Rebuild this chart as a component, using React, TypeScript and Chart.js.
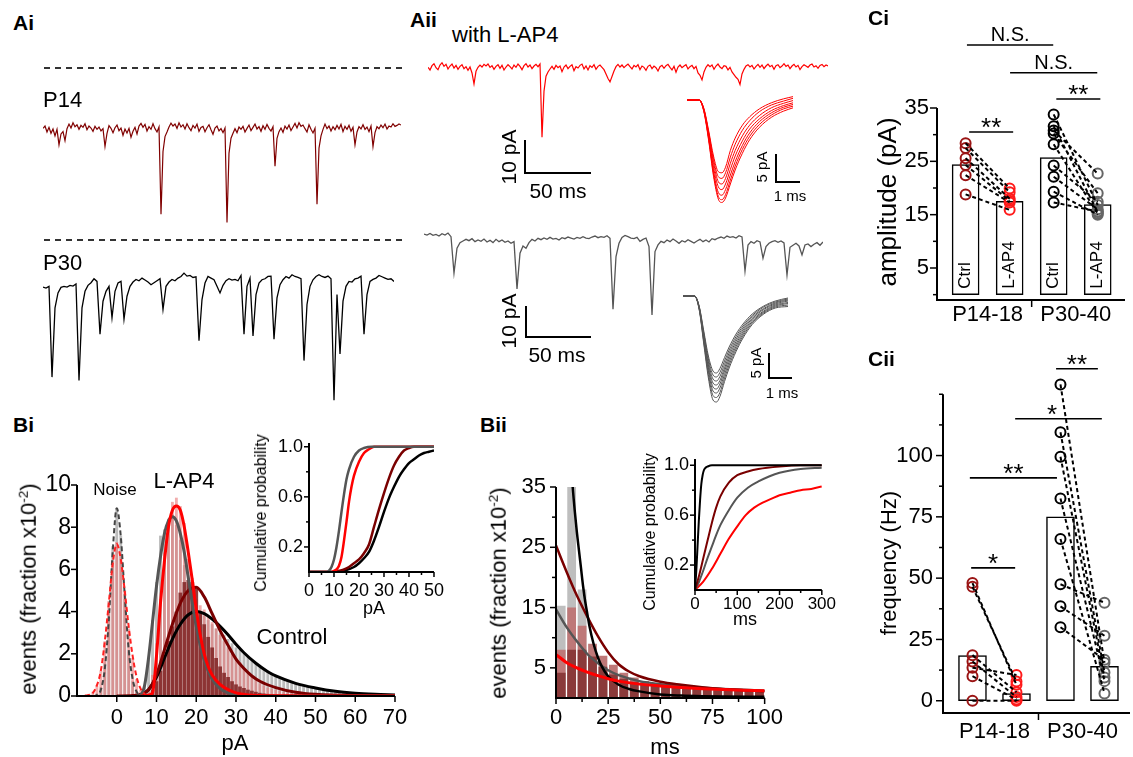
import React, { useEffect, useRef } from 'react';
import { Chart, registerables } from 'chart.js';

Chart.register(...registerables);

const FONT = "'Liberation Sans', Arial, Helvetica, sans-serif";
Chart.defaults.font.family = FONT;

// ================= Panel A : raw traces (pA, one sample per step ms) =================
const TRACE_STEP = 2.27;
const FINE_STEP = 1.515;
const p14Trace = [
  0.5, 1.2, -0.6, 0.8, -1.0, 0.3, -1.8, 0.2, -4.5, -1.2,
  -0.5, -3.2, 0.4, 1.8, 0.6, 2.2, 1.0, 1.6, 0.2, 1.4,
  0.8, 1.9, 0.1, 1.2, 0.6, -0.4, 1.1, 0.2, 0.9, -0.3,
  0.4, -5.0, -1.0, 1.3, 0.5, -0.8, 0.7, 1.5, -0.2, 0.6,
  -1.6, 0.3, -0.9, 0.5, -2.2, -0.4, 0.8, -1.2, 1.2, 2.0,
  0.8, 1.7, -0.3, 1.0, 0.2, 1.9, 0.4, -0.6, 0.9, -25.5,
  -6.5, -2.0, -0.6, 0.9, 2.1, 1.2, 1.8, 0.5, 2.2, 0.9,
  1.6, 0.3, 1.9, 0.7, -0.2, 1.4, 0.6, 1.8, -0.4, 0.8,
  1.1, -0.5, 0.7, 1.6, 0.1, -1.3, 0.6, 1.2, -0.3, 0.4,
  -0.8, 0.6, -28.0, -7.0, -2.5, -1.0, 0.4, -0.8, 0.9, 0.2,
  1.1, -0.6, 0.5, 1.5, -0.2, 0.8, 1.8, 0.3, 1.0, -0.4,
  1.3, 0.2, 1.7, 0.5, -0.3, 1.0, -11.0, -2.5, -0.5, 0.6,
  -0.7, 1.2, 0.3, 1.5, -0.2, 0.9, 2.0, 0.6, 2.2, 1.1,
  1.5, 0.4, -0.6, 1.6, 0.2, -0.9, 0.5, -22.5, -5.5, -1.8,
  0.2, 1.8, 0.4, 1.2, -0.3, 1.0, 0.1, 1.4, 0.3, 1.7,
  -0.5, 1.1, 0.2, 1.4, -0.4, 0.8, -4.5, -0.6, 1.0, 0.3,
  1.6, 0.2, 0.9, -0.5, 1.2, -5.0, -0.8, 1.0, 0.4, 1.5,
  0.7, 1.8, 0.3, 1.2, 0.9, 1.9, 1.1, 1.4, 1.8, 1.5,
];
const p30Trace = [
  0.3, 0.0, 0.5, -27, -6, -1.5, 0.2, 0.5, 0.3, 0.8,
  0.6, 1.2, -28, -6, -1.0, 0.8, 1.6, 2.8, 2.0, -14,
  -4, -1.0, 0.5, -9, -1.0, 1.5, 2.0, -9.5, -2.5, 0.5,
  1.8, 2.6, 2.2, 3.0, 2.4, 1.8, 1.0, 1.6, 2.2, 2.8,
  -6.5, 0.5, 1.8, 2.6, 2.2, 3.0, 3.5, 4.5, 3.6, 3.8,
  3.2, 3.4, -16, -3.5, 1.5, 3.5, 3.0, 2.5, 0.5, -1.5,
  0.8, 2.2, 2.8, 2.4, 2.6, 2.2, 3.8, -14, 0.5, 3.0,
  -14.5, -2.0, 1.5, 2.5, 2.8, 3.5, 3.6, -15.5, -3, 1.0,
  2.5, 3.5, 3.0, 4.0, 3.5, 3.2, 2.8, -22, -5, 0.5,
  2.5, 3.5, 4.0, 3.5, 3.2, 3.6, 2.8, -34, -2, -20,
  -4, 0.5, 2.0, 1.8, 2.8, 3.0, 3.6, -14, -2, 2.0,
  2.6, 3.0, 3.8, 3.4, 3.0, 2.6, 2.8, 2.0,
];
const lap4Trace = [
  0.2, -0.6, 0.7, 1.3, 0.1, -0.5, 0.9, 1.6, 0.5, 1.1,
  -0.3, 0.6, 1.2, 0.0, 0.8, -0.4, 0.5, 1.0, -0.2, 0.4,
  -0.7, 0.3, -1.5, -4.8, -1.0, 0.2, 0.9, 0.3, 1.1, 0.6,
  1.2, 0.2, 0.7, -0.4, 0.5, 1.0, -0.1, 0.8, -0.6, 0.3,
  1.0, 0.4, -0.3, 0.9, 0.2, 1.2, 0.5, -0.5, 0.7, 1.3,
  0.3, 0.9, -0.2, 0.6, 1.1, 0.4, 1.2, -21.0, -7.0, -2.5,
  -1.2, -0.3, 0.5, -0.4, 0.8, 0.1, 0.6, -1.1, 0.3, 0.9,
  -0.2, 0.5, 1.0, -0.8, 0.4, 0.0, 0.8, 1.2, -0.3, 0.6,
  -0.6, 0.7, 0.2, 1.0, -0.4, 0.5, 0.9, 0.2, -0.5, -1.8,
  -3.2, -4.2, -2.6, -0.9, 0.4, 1.1, 0.3, 0.9, 0.1, 0.7,
  1.2, 0.4, -0.3, 0.8, 0.3, 1.0, -0.5, 0.6, 0.2, -0.7,
  0.5, 0.9, -0.2, 0.6, 0.1, -0.9, 0.4, 0.8, -0.1, 0.7,
  1.1, 0.2, -0.6, 0.5, -1.3, 0.3, 0.9, 0.1, 0.6, 1.0,
  -0.3, 0.4, 0.8, -0.2, 0.5, -1.5, -2.2, -3.6, -1.2, 0.2,
  1.0, 0.4, 0.9, -0.4, 0.6, 1.2, 0.3, -0.2, 0.7, 0.5,
  -0.6, 0.2, -1.2, -2.0, -2.8, -3.4, -5.0, -1.8, -0.4, 0.6,
  1.0, 0.3, 0.8, -0.3, 0.5, 1.1, 0.2, 0.9, -0.2, 0.6,
  1.2, 0.4, 0.8, -0.4, 0.7, 1.0, 0.1, 0.6, 1.3, 0.5,
  0.9, -0.2, 0.6, 1.1, 0.3, 0.8, -0.5, 0.4, 1.0, 0.6,
  0.2, 0.9, 1.2, 0.3, 0.7, -0.1, 0.8, 1.1, 0.4, 0.9,
  0.6,
];
const p30Lap4Trace = [
  1.8, 1.5, 2.0, 1.4, 1.7, 1.2, 1.9, 1.5, 2.1, 1.0,
  -10.0, -2.5, -0.8, -0.3, 0.2, -0.2, 0.4, -0.5, 0.0, -0.4,
  0.3, -0.6, -0.1, -0.8, 0.2, -0.5, 0.0, -0.7, -0.3, -1.0,
  -0.5, -14.8, -4.0, -1.8, -2.5, -0.8, 0.2, -0.3, 0.5, 0.1,
  0.6, 0.2, 0.8, 0.3, 0.5, 0.0, 0.7, 0.4, 0.9, 0.6,
  0.3, 0.8, 0.5, 1.0, 0.6, 0.4, 0.9, 1.2, 0.7, 1.0,
  0.8, 1.3, 0.5, -21.0, -5.0, -1.0, 0.8, 1.4, 1.0, 0.6,
  0.4, 0.8, -0.4, 0.2, 0.6, -2.0, -22.7, -3.5, -1.5, -0.4,
  -0.8, 0.0, -0.5, 0.3, -0.3, -1.0, -0.2, -0.6, 0.1, -0.4,
  -0.9, -0.3, 0.2, -0.5, 0.0, -0.6, 0.4, 0.1, 0.6, 0.9,
  0.5, 1.2, 0.8, 1.0, 0.6, 1.3, 0.9, -9.4, -1.5, -0.5,
  -1.0, -0.2, -0.6, -5.5, -2.0, -1.0, -0.5, -0.2, -0.7, -0.3,
  -0.9, -10.6, -2.2, -1.6, -1.0, -1.8, -4.5, -1.5, -1.2, -2.0,
  -1.3, -0.8, -1.6, -0.6,
];

// overlaid single events (ms, pA)
const redEventTime = [0, 0.5, 0.7, 0.9, 1.1, 1.3, 1.45, 1.6, 1.8, 2.0, 2.3, 2.6, 3.0, 3.5, 4.0, 4.4];
const redEvents = [
  [0, 0, -1.5, -5.5, -10.0, -12.8, -13.0, -12.0, -9.0, -6.8, -4.5, -3.0, -1.6, -0.5, 0.2, 0.6],
  [0, 0, -1.6, -5.8, -10.6, -13.7, -14.0, -13.0, -10.2, -7.9, -5.4, -3.7, -2.1, -0.9, -0.2, 0.3],
  [0, 0, -1.7, -6.0, -11.2, -14.6, -15.0, -14.0, -11.3, -9.0, -6.4, -4.5, -2.8, -1.4, -0.6, -0.1],
  [0, 0, -1.8, -6.4, -12.0, -15.5, -16.0, -15.0, -12.4, -10.0, -7.3, -5.2, -3.4, -1.9, -1.0, -0.5],
  [0, 0, -1.9, -6.8, -12.7, -16.5, -17.0, -16.0, -13.4, -11.0, -8.1, -5.9, -3.9, -2.3, -1.3, -0.8],
  [0, 0, -2.0, -7.0, -13.2, -17.2, -17.8, -16.9, -14.3, -11.8, -8.8, -6.5, -4.4, -2.7, -1.6, -1.1],
  [0, 0, -2.1, -7.3, -13.6, -17.7, -18.3, -17.5, -15.0, -12.5, -9.5, -7.1, -4.9, -3.1, -2.0, -1.4],
];
const grayEventTime = [0, 0.5, 0.7, 0.9, 1.1, 1.3, 1.45, 1.6, 1.8, 2.0, 2.3, 2.6, 3.0, 3.5, 4.0, 4.55];
const grayEvents = [
  [0, 0, -2.0, -7.0, -12.0, -15.0, -15.4, -14.5, -12.3, -10.2, -7.6, -5.6, -3.6, -2.0, -1.0, -0.4],
  [0, 0, -2.1, -7.4, -12.6, -15.8, -16.2, -15.3, -13.0, -10.8, -8.1, -6.0, -3.9, -2.2, -1.2, -0.6],
  [0, 0, -2.2, -7.7, -13.2, -16.6, -17.0, -16.1, -13.7, -11.4, -8.6, -6.4, -4.2, -2.5, -1.4, -0.8],
  [0, 0, -2.3, -8.1, -13.8, -17.4, -17.8, -16.9, -14.4, -12.0, -9.1, -6.8, -4.5, -2.7, -1.6, -1.0],
  [0, 0, -2.4, -8.4, -14.4, -18.2, -18.6, -17.6, -15.0, -12.6, -9.6, -7.2, -4.8, -3.0, -1.8, -1.3],
  [0, 0, -2.5, -8.8, -15.0, -19.0, -19.4, -18.4, -15.7, -13.2, -10.1, -7.6, -5.1, -3.2, -2.0, -1.5],
  [0, 0, -2.6, -9.2, -15.7, -19.9, -20.3, -19.3, -16.4, -13.8, -10.6, -8.0, -5.4, -3.4, -2.2, -1.8],
  [0, 0, -2.7, -9.6, -16.4, -20.8, -21.2, -20.1, -17.1, -14.4, -11.1, -8.4, -5.7, -3.6, -2.4, -2.1],
];

// ================= Panel Bi : amplitude histograms (fraction x10^-2, 1 pA bins) =================
const binsBi = [
  -8, -7, -6, -5, -4, -3, -2, -1, 0, 1, 2, 3, 4, 5, 6, 7, 8, 9, 10, 11, 12, 13, 14, 15, 16, 17, 18, 19,
  20, 21, 22, 23, 24, 25, 26, 27, 28, 29, 30, 31, 32, 33, 34, 35, 36, 37, 38, 39, 40, 41, 42, 43, 44,
  45, 46, 47, 48, 49, 50, 51, 52, 53, 54, 55, 56, 57, 58, 59, 60,
];
const grayHistBi = [
  0, 0, 0, 0.1, 0.4, 1.6, 3.9, 7.1,
  8.9, 7.6, 4.6, 2.1, 0.7, 0.2, 0.1, 0.5, 1.8, 3.6,
  5.4, 7.6, 7.9, 8.4, 8.6, 8.1, 7.4, 6.2, 5.2, 4.4,
  4.0, 3.9, 3.8, 3.6, 3.4, 3.2, 3.0, 2.9, 2.7, 2.5,
  2.3, 2.2, 2.0, 1.85, 1.7, 1.55, 1.4, 1.3, 1.2, 1.1,
  1.0, 0.9, 0.85, 0.75, 0.7, 0.6, 0.55, 0.5, 0.45, 0.4,
  0.36, 0.32, 0.29, 0.26, 0.23, 0.2, 0.18, 0.16, 0.14, 0.12,
  0.1,
];
const pinkHistBi = [
  0.05, 0.1, 0.2, 0.5, 1.2, 2.6, 4.5, 6.4,
  7.3, 6.6, 5.0, 3.2, 1.8, 0.8, 0.3, 0.1, 0.3, 1.0,
  2.5, 4.6, 6.8, 8.0, 9.2, 9.4, 9.0, 8.2, 6.5, 5.6,
  4.6, 4.3, 4.1, 3.8, 3.5, 3.2, 2.9, 2.6, 2.3, 2.0,
  1.8, 1.6, 1.3, 1.1, 0.9, 0.75, 0.6, 0.5, 0.4, 0.35,
  0.3, 0.25, 0.2, 0.18, 0.15, 0.12, 0.1, 0.08, 0.06, 0.05,
  0.04, 0.03, 0.03, 0.02, 0.02, 0.01, 0.01, 0.01, 0, 0,
  0,
];
const darkHistBi = [
  0, 0, 0, 0, 0, 0, 0, 0,
  0, 0, 0, 0, 0, 0, 0, 0.05, 0.1, 0.3,
  0.7, 1.2, 1.9, 2.6, 3.3, 4.0, 4.9, 5.4, 5.5, 5.4,
  5.1, 4.0, 3.4, 2.8, 2.3, 1.8, 1.4, 1.1, 0.9, 0.7,
  0.55, 0.45, 0.38, 0.3, 0.25, 0.2, 0.15, 0.12, 0.1, 0.08,
  0.06, 0.05, 0.04, 0.03, 0.03, 0.02, 0.02, 0.01, 0.01, 0.01,
  0, 0, 0, 0, 0, 0, 0, 0, 0, 0,
  0,
];
const noiseX = [-8, -7, -6, -5, -4, -3, -2, -1, 0, 1, 2, 3, 4, 5, 6, 7, 8];
const noiseRedFit = [0.02, 0.05, 0.15, 0.5, 1.2, 2.6, 4.4, 6.3, 7.2, 6.5, 5.0, 3.3, 1.9, 0.9, 0.35, 0.1, 0.02];
const noiseGrayFit = [0, 0, 0, 0.05, 0.3, 1.3, 3.6, 6.9, 8.9, 7.6, 4.8, 2.2, 0.8, 0.2, 0.05, 0, 0];
const redFitX = [6, 7, 8, 9, 10, 11, 12, 13, 14, 15, 16, 17, 18, 19, 20, 21, 22, 23, 24, 26, 28, 30, 33, 36, 40, 50, 70];
const redFitY = [0, 0.01, 0.04, 0.15, 1.9, 4.4, 6.4, 8.0, 8.8, 9.0, 8.8, 8.0, 6.8, 5.5, 4.1, 2.9, 2.0, 1.4, 1.0, 0.55, 0.3, 0.15, 0.05, 0.02, 0.01, 0, 0];
const grayFitX = [5, 6, 7, 8, 9, 10, 11, 12, 13, 14, 15, 16, 17, 18, 19, 20, 21, 22, 24, 26, 28, 30, 35, 40, 70];
const grayFitY = [0, 0.05, 0.5, 1.8, 3.5, 5.2, 6.6, 7.7, 8.3, 8.5, 8.3, 7.7, 6.8, 5.6, 4.4, 3.3, 2.4, 1.7, 0.8, 0.35, 0.15, 0.06, 0.01, 0, 0];
const darkFitX = [0, 4, 6, 8, 10, 12, 14, 16, 18, 20, 22, 24, 26, 28, 30, 32, 34, 36, 40, 45, 50, 60, 70];
const darkFitY = [0, 0.02, 0.08, 0.3, 1.0, 2.2, 3.4, 4.4, 5.0, 5.15, 4.7, 3.9, 3.1, 2.4, 1.75, 1.3, 0.95, 0.7, 0.4, 0.18, 0.08, 0.02, 0.01];
const blackFitX = [4, 6, 8, 10, 12, 14, 16, 18, 20, 22, 24, 26, 28, 30, 32, 35, 38, 40, 45, 50, 55, 60, 65, 70];
const blackFitY = [0, 0.05, 0.3, 0.9, 1.8, 2.7, 3.4, 3.85, 4.0, 3.9, 3.65, 3.3, 2.9, 2.45, 2.05, 1.55, 1.15, 0.95, 0.6, 0.38, 0.22, 0.13, 0.08, 0.05];
const biXTicks = [0, 10, 20, 30, 40, 50, 60, 70];
const biYTicks = [0, 2, 4, 6, 8, 10];

// Bi inset: cumulative probability vs pA
const cumAGrayX = [0, 7, 8, 9, 10, 11, 12, 13, 14, 15, 16, 18, 20, 22, 25, 50];
const cumAGrayY = [0, 0, 0.01, 0.04, 0.1, 0.2, 0.33, 0.48, 0.62, 0.74, 0.82, 0.92, 0.97, 0.99, 1, 1];
const cumARedX = [0, 9, 10, 11, 12, 13, 14, 15, 16, 17, 18, 20, 22, 24, 26, 50];
const cumARedY = [0, 0, 0.01, 0.02, 0.05, 0.12, 0.25, 0.4, 0.56, 0.68, 0.77, 0.88, 0.95, 0.98, 1, 1];
const cumADarkX = [0, 10, 12, 14, 16, 18, 20, 22, 24, 26, 28, 30, 32, 34, 36, 38, 40, 42, 50];
const cumADarkY = [0, 0, 0.01, 0.02, 0.04, 0.07, 0.1, 0.15, 0.22, 0.36, 0.5, 0.63, 0.75, 0.85, 0.92, 0.97, 0.99, 1, 1];
const cumABlackX = [0, 10, 14, 18, 20, 22, 24, 26, 28, 30, 32, 34, 36, 38, 40, 42, 44, 46, 48, 50];
const cumABlackY = [0, 0, 0.01, 0.04, 0.07, 0.11, 0.16, 0.25, 0.36, 0.48, 0.59, 0.68, 0.76, 0.82, 0.87, 0.9, 0.93, 0.95, 0.96, 0.97];
const biInXTicks = [0, 10, 20, 30, 40, 50];
const biInXMinor = [5, 15, 25, 35, 45];
const cumYTicks = [0.2, 0.6, 1.0];
const cumYMinor = [0.4, 0.8];

// ================= Panel Bii : inter-event interval histograms (5 ms bins) =================
const binsBii = [2.5, 7.5, 12.5, 17.5, 22.5, 27.5, 32.5, 37.5, 42.5, 47.5, 52.5, 57.5, 62.5, 67.5, 72.5, 77.5, 82.5, 87.5, 92.5, 97.5];
const grayHistBii = [15.3, 35, 18, 7.5, 4.5, 3.0, 2.2, 1.8, 1.5, 1.3, 1.1, 1.0, 0.9, 0.8, 0.7, 0.6, 0.55, 0.5, 0.45, 0.4];
const rosyHistBii = [8, 15, 12, 9, 7, 5.5, 4.2, 3.4, 2.8, 2.4, 2.1, 1.9, 1.7, 1.6, 1.5, 1.4, 1.3, 1.25, 1.2, 1.15];
const darkHistBii = [4.2, 8, 8, 6.9, 5.2, 3.9, 3.2, 2.7, 2.4, 2.1, 1.9, 1.7, 1.6, 1.5, 1.4, 1.3, 1.25, 1.2, 1.15, 1.1];
const iiBlackX = [7, 8, 9, 10, 11, 12, 13, 14, 15, 16, 18, 20, 22, 25, 30, 35, 40, 50, 60, 70, 80, 100];
const iiBlackY = [40, 35, 31, 27.5, 24.5, 21.5, 18.5, 16, 14, 12, 9, 6.8, 5.2, 3.6, 2.2, 1.5, 1.1, 0.6, 0.4, 0.3, 0.25, 0.2];
const iiDarkX = [0, 5, 10, 15, 20, 25, 30, 35, 40, 50, 60, 70, 80, 90, 100];
const iiDarkY = [25.3, 21, 17, 13.5, 10.3, 7.6, 5.6, 4.4, 3.6, 2.7, 2.2, 1.8, 1.5, 1.3, 1.1];
const iiGrayX = [0, 5, 10, 15, 20, 25, 30, 40, 50, 60, 70, 80, 90, 100];
const iiGrayY = [14.7, 11.8, 9.4, 7.3, 5.8, 4.6, 3.8, 2.8, 2.3, 2.0, 1.7, 1.5, 1.35, 1.2];
const iiRedX = [0, 5, 10, 15, 20, 25, 30, 40, 50, 60, 70, 80, 90, 100];
const iiRedY = [7.2, 5.9, 5.0, 4.3, 3.7, 3.2, 2.8, 2.3, 2.0, 1.75, 1.55, 1.4, 1.3, 1.2];
const biiXTicks = [0, 25, 50, 75, 100];
const biiXMinor = [12.5, 37.5, 62.5, 87.5];
const biiYTicks = [5, 15, 25, 35];
const biiYMinor = [10, 20, 30];

// Bii inset: cumulative probability vs ms
const cumIBlackX = [0, 3, 6, 9, 12, 15, 18, 21, 25, 30, 40, 60, 300];
const cumIBlackY = [0, 0.15, 0.35, 0.55, 0.72, 0.85, 0.92, 0.96, 0.98, 0.99, 1, 1, 1];
const cumIDarkX = [0, 10, 20, 30, 40, 50, 60, 80, 100, 125, 150, 200, 250, 300];
const cumIDarkY = [0, 0.12, 0.26, 0.4, 0.54, 0.66, 0.75, 0.86, 0.92, 0.95, 0.97, 0.99, 1, 1];
const cumIGrayX = [0, 10, 20, 30, 40, 50, 60, 80, 100, 125, 150, 175, 200, 250, 300];
const cumIGrayY = [0, 0.07, 0.16, 0.26, 0.35, 0.44, 0.52, 0.64, 0.74, 0.82, 0.87, 0.91, 0.94, 0.97, 0.98];
const cumIRedX = [0, 20, 40, 60, 80, 100, 120, 140, 160, 180, 200, 225, 250, 275, 300];
const cumIRedY = [0, 0.07, 0.17, 0.29, 0.41, 0.51, 0.6, 0.66, 0.7, 0.73, 0.76, 0.78, 0.8, 0.81, 0.83];
const biiInXTicks = [0, 100, 200, 300];
const biiInXMinor = [50, 150, 250];

// ================= Panel C : paired data =================
const groupTicks = [0.5, 2.5];
const groupLabels = ['P14-18', 'P30-40'];
const barNames = ['Ctrl', 'L-AP4', 'Ctrl', 'L-AP4'];
const ampMeans = [24.4, 17.5, 25.7, 16.9];
const ampCtrl14 = [28.4, 27.5, 25.6, 24.3, 22.4, 18.8];
const ampLap14 = [19.9, 19.2, 18.0, 17.6, 17.3, 15.9];
const ampCtrl30 = [33.8, 31.6, 30.8, 30.2, 28.2, 24.2, 22.1, 19.3, 17.3];
const ampLap30 = [16.8, 15.5, 22.7, 19.0, 15.2, 17.4, 16.0, 15.0, 15.6];
const ampYTicks = [5, 15, 25, 35];
const ampYMinor = [0, 10, 20, 30];
const ampSig = [
  { from: 0.08, to: 1.08, y: 30.5, label: '**' },
  { from: 2.06, to: 3.06, y: 36.7, label: '**' },
  { from: 0.03, to: 1.99, y: 46.8, label: 'N.S.' },
  { from: 1.01, to: 2.99, y: 41.6, label: 'N.S.' },
];
const freqMeans = [18.4, 2.9, 75, 14];
const freqCtrl14 = [48, 46.5, 18.6, 16, 13.5, 10, 0];
const freqLap14 = [6.5, 7.8, 3.5, 1.5, 10.5, 0.5, 0];
const freqCtrl30 = [129, 109.5, 99.5, 82.5, 66, 47.5, 38.5, 30];
const freqLap30 = [15.5, 11.5, 9.5, 8, 3, 40, 26.5, 16.7];
const freqYTicks = [0, 25, 50, 75, 100];
const freqYMinor = [12.5, 37.5, 62.5, 87.5, 112.5, 125];
const freqSig = [
  { from: -0.03, to: 0.97, y: 54.2, label: '*' },
  { from: -0.06, to: 1.92, y: 90.9, label: '**' },
  { from: 0.97, to: 2.94, y: 115, label: '*', tx: 1.81 },
  { from: 1.9, to: 2.85, y: 135.4, label: '**' },
];

// ================= helpers =================
type Box = { l: number; t: number; w: number; h: number };
type Area = { l: number; t: number; r: number; b: number };

const pts = (xs: number[], ys: number[]) => xs.map((x, i) => ({ x, y: ys[i] }));

function baseOptions() {
  return {
    animation: false,
    responsive: false,
    events: [],
    plugins: { legend: { display: false }, tooltip: { enabled: false }, title: { display: false } },
  };
}

function frame(box: Box, area: Area) {
  return {
    padding: { left: 0, top: area.t - box.t, right: box.l + box.w - area.r, bottom: 0 },
    yW: area.l - box.l,
    xH: box.t + box.h - area.b,
  };
}

function linAxis(min: number, max: number, ticks: number[], fmt: any, size: number, pad: number, fit: number, horiz: boolean) {
  return {
    type: 'linear',
    min,
    max,
    offset: false,
    grid: { display: false, drawTicks: false },
    border: { display: false },
    afterBuildTicks: (s: any) => {
      s.ticks = ticks.map((v) => ({ value: v }));
    },
    afterFit: (s: any) => {
      if (horiz) s.height = fit;
      else s.width = fit;
    },
    ticks: {
      autoSkip: false,
      maxRotation: 0,
      minRotation: 0,
      padding: pad,
      color: '#000',
      font: { family: FONT, size },
      callback: fmt,
    },
  };
}

function axesPlugin(spec: any) {
  return {
    id: 'axesMarks',
    afterDraw(chart: any) {
      const { ctx, chartArea: a } = chart;
      const aw = spec.axisWidth || 2;
      const yTopPx = spec.yTop !== undefined ? chart.scales.y.getPixelForValue(spec.yTop) : a.top;
      ctx.save();
      ctx.strokeStyle = '#000';
      ctx.lineWidth = aw;
      ctx.beginPath();
      ctx.moveTo(a.left, yTopPx);
      ctx.lineTo(a.left, a.bottom + aw / 2);
      ctx.moveTo(a.left - aw / 2, a.bottom);
      ctx.lineTo(a.right, a.bottom);
      ctx.stroke();
      ctx.lineWidth = spec.tickWidth || 1.5;
      const mark = (axis: string, vals: number[], len: number) => {
        const sc = chart.scales[axis];
        (vals || []).forEach((v) => {
          const p = sc.getPixelForValue(v);
          ctx.beginPath();
          if (axis === 'x') {
            ctx.moveTo(p, a.bottom);
            ctx.lineTo(p, a.bottom + len);
          } else {
            ctx.moveTo(a.left, p);
            ctx.lineTo(a.left - len, p);
          }
          ctx.stroke();
        });
      };
      mark('x', spec.xMajor, spec.majorLen);
      mark('x', spec.xMinor, spec.minorLen);
      mark('y', spec.yMajor, spec.majorLen);
      mark('y', spec.yMinor, spec.minorLen);
      ctx.restore();
    },
  };
}

function sigPlugin(items: any[]) {
  return {
    id: 'sigBars',
    afterDraw(chart: any) {
      const { ctx } = chart;
      const xs = chart.scales.x;
      const ys = chart.scales.y;
      ctx.save();
      ctx.strokeStyle = '#000';
      ctx.fillStyle = '#000';
      ctx.lineWidth = 1.6;
      items.forEach((it) => {
        const x0 = xs.getPixelForValue(it.from);
        const x1 = xs.getPixelForValue(it.to);
        const y = ys.getPixelForValue(it.y);
        ctx.beginPath();
        ctx.moveTo(x0, y);
        ctx.lineTo(x1, y);
        ctx.stroke();
        const star = it.label.indexOf('*') >= 0;
        ctx.font = star ? `26px ${FONT}` : `20px ${FONT}`;
        ctx.textAlign = 'center';
        ctx.textBaseline = 'alphabetic';
        const tx = it.tx !== undefined ? xs.getPixelForValue(it.tx) : (x0 + x1) / 2;
        ctx.fillText(it.label, tx, star ? y + 4 : y - 4);
      });
      ctx.restore();
    },
  };
}

function barTextPlugin(names: string[], dsIndex: number) {
  return {
    id: 'barText',
    afterDatasetsDraw(chart: any) {
      const { ctx } = chart;
      const meta = chart.getDatasetMeta(dsIndex);
      ctx.save();
      ctx.fillStyle = '#000';
      ctx.font = `17px ${FONT}`;
      ctx.textAlign = 'left';
      ctx.textBaseline = 'middle';
      meta.data.forEach((el: any, i: number) => {
        ctx.save();
        ctx.translate(el.x, el.base - 6);
        ctx.rotate(-Math.PI / 2);
        ctx.fillText(names[i], 0, 0);
        ctx.restore();
      });
      ctx.restore();
    },
  };
}

function ChartCanvas({ box, make }: { box: Box; make: () => any }) {
  const ref = useRef<HTMLCanvasElement>(null);
  useEffect(() => {
    const chart = new Chart(ref.current as any, make());
    return () => chart.destroy();
  }, []);
  return (
    <canvas
      ref={ref}
      width={box.w}
      height={box.h}
      style={{ position: 'absolute', left: box.l, top: box.t, width: box.w + 'px', height: box.h + 'px' }}
    />
  );
}

// ----- trace charts (no axes, box == plot area) -----
function yRange(box: Box, zeroPx: number, ppu: number) {
  const max = (zeroPx - box.t) / ppu;
  return [max - box.h / ppu, max];
}

function traceMaker(box: Box, values: number[], step: number, color: string, width: number, zeroPx: number, ppu: number) {
  return () => {
    const [ymin, ymax] = yRange(box, zeroPx, ppu);
    return {
      type: 'line',
      data: {
        datasets: [
          {
            data: values.map((v, i) => ({ x: i * step, y: v })),
            borderColor: color,
            borderWidth: width,
            pointRadius: 0,
            tension: 0,
            clip: false,
          },
        ],
      },
      options: {
        ...baseOptions(),
        layout: { padding: 0, autoPadding: false },
        scales: {
          x: { type: 'linear', display: false, min: 0, max: (values.length - 1) * step },
          y: { type: 'linear', display: false, min: ymin, max: ymax },
        },
      },
    };
  };
}

function eventsMaker(box: Box, t: number[], traces: number[][], color: string, zeroPx: number, ppu: number) {
  return () => {
    const [ymin, ymax] = yRange(box, zeroPx, ppu);
    return {
      type: 'line',
      data: {
        datasets: traces.map((tr) => ({
          data: pts(t, tr),
          borderColor: color,
          borderWidth: 1,
          pointRadius: 0,
          cubicInterpolationMode: 'monotone',
          clip: false,
        })),
      },
      options: {
        ...baseOptions(),
        layout: { padding: 0, autoPadding: false },
        scales: {
          x: { type: 'linear', display: false, min: 0, max: t[t.length - 1] },
          y: { type: 'linear', display: false, min: ymin, max: ymax },
        },
      },
    };
  };
}

const fitLine = (xs: number[], ys: number[], color: string, width: number, order: number, dash?: number[]) => ({
  type: 'line',
  data: pts(xs, ys),
  borderColor: color,
  borderWidth: width,
  borderDash: dash || [],
  pointRadius: 0,
  cubicInterpolationMode: 'monotone',
  order,
});

const histBars = (bins: number[], ys: number[], color: string, pct: number, order: number) => ({
  type: 'bar',
  data: pts(bins, ys),
  backgroundColor: color,
  borderWidth: 0,
  barPercentage: pct,
  categoryPercentage: 1,
  grouped: false,
  order,
});

const num = (v: any) => String(v);
const dec1 = (v: any) => Number(v).toFixed(1);

// ----- Bi -----
const BI_BOX = { l: 0, t: 440, w: 440, h: 317 };
const BI_AREA = { l: 77, t: 485, r: 395, b: 696 };
function makeBi() {
  const f = frame(BI_BOX, BI_AREA);
  return {
    type: 'bar',
    data: {
      datasets: [
        fitLine(redFitX, redFitY, '#ff0000', 3, 0),
        fitLine(grayFitX, grayFitY, '#555555', 3, 1),
        fitLine(darkFitX, darkFitY, '#7a0000', 3, 2),
        fitLine(blackFitX, blackFitY, '#000000', 3, 3),
        fitLine(noiseX, noiseGrayFit, '#444444', 2, 1, [5, 3]),
        fitLine(noiseX, noiseRedFit, '#ff2020', 2, 0, [5, 3]),
        histBars(binsBi, darkHistBi, 'rgba(135,45,45,0.92)', 0.95, 10),
        histBars(binsBi, pinkHistBi, 'rgba(232,118,118,0.6)', 0.72, 11),
        histBars(binsBi, grayHistBi, 'rgba(160,160,160,0.7)', 0.72, 12),
      ],
    },
    options: {
      ...baseOptions(),
      layout: { padding: f.padding, autoPadding: false },
      scales: {
        x: linAxis(-10, 70, biXTicks, num, 22, 9, f.xH, true),
        y: linAxis(0, 10, biYTicks, num, 23, 6, f.yW, false),
      },
    },
    plugins: [axesPlugin({ xMajor: biXTicks, yMajor: biYTicks, majorLen: 6, minorLen: 3 })],
  };
}

// ----- Bi inset -----
const BIIN_BOX = { l: 240, t: 425, w: 212, h: 200 };
const BIIN_AREA = { l: 309, t: 443, r: 439, b: 572 };
function makeBiInset() {
  const f = frame(BIIN_BOX, BIIN_AREA);
  return {
    type: 'line',
    data: {
      datasets: [
        fitLine(cumAGrayX, cumAGrayY, '#555555', 2.5, 0),
        fitLine(cumARedX, cumARedY, '#ff0000', 2.5, 1),
        fitLine(cumADarkX, cumADarkY, '#7a0000', 2.5, 2),
        fitLine(cumABlackX, cumABlackY, '#000000', 2.5, 3),
      ],
    },
    options: {
      ...baseOptions(),
      layout: { padding: f.padding, autoPadding: false },
      scales: {
        x: linAxis(0, 50, biInXTicks, num, 18, 8, f.xH, true),
        y: linAxis(0, 1.03, cumYTicks, dec1, 18, 6, f.yW, false),
      },
    },
    plugins: [
      axesPlugin({ xMajor: biInXTicks, xMinor: biInXMinor, yMajor: cumYTicks, yMinor: cumYMinor, majorLen: 5, minorLen: 3, axisWidth: 2 }),
    ],
  };
}

// ----- Bii -----
const BII_BOX = { l: 510, t: 460, w: 280, h: 297 };
const BII_AREA = { l: 556, t: 487, r: 769, b: 698 };
function makeBii() {
  const f = frame(BII_BOX, BII_AREA);
  return {
    type: 'bar',
    data: {
      datasets: [
        fitLine(iiRedX, iiRedY, '#ff0000', 3, 0),
        fitLine(iiBlackX, iiBlackY, '#000000', 2.5, 1),
        fitLine(iiDarkX, iiDarkY, '#7a0000', 2.5, 2),
        fitLine(iiGrayX, iiGrayY, '#555555', 2.5, 3),
        histBars(binsBii, darkHistBii, 'rgb(138,58,58)', 0.84, 10),
        histBars(binsBii, rosyHistBii, 'rgb(190,120,120)', 0.84, 11),
        histBars(binsBii, grayHistBii, 'rgb(190,190,190)', 0.84, 12),
      ],
    },
    options: {
      ...baseOptions(),
      layout: { padding: f.padding, autoPadding: false },
      scales: {
        x: linAxis(0, 100, biiXTicks, num, 22, 7, f.xH, true),
        y: linAxis(0, 35, biiYTicks, num, 22, 10, f.yW, false),
      },
    },
    plugins: [axesPlugin({ xMajor: biiXTicks, xMinor: biiXMinor, yMajor: biiYTicks, yMinor: biiYMinor, majorLen: 6, minorLen: 4 })],
  };
}

// ----- Bii inset -----
const BIIIN_BOX = { l: 655, t: 440, w: 185, h: 190 };
const BIIIN_AREA = { l: 695, t: 459, r: 824, b: 590 };
function makeBiiInset() {
  const f = frame(BIIIN_BOX, BIIIN_AREA);
  return {
    type: 'line',
    data: {
      datasets: [
        fitLine(cumIBlackX, cumIBlackY, '#000000', 2, 0),
        fitLine(cumIDarkX, cumIDarkY, '#7a0000', 2, 1),
        fitLine(cumIGrayX, cumIGrayY, '#555555', 2, 2),
        fitLine(cumIRedX, cumIRedY, '#ff0000', 2, 3),
      ],
    },
    options: {
      ...baseOptions(),
      layout: { padding: f.padding, autoPadding: false },
      scales: {
        x: linAxis(0, 300, biiInXTicks, num, 17, 4, f.xH, true),
        y: linAxis(0, 1.05, cumYTicks, dec1, 18, 6, f.yW, false),
      },
    },
    plugins: [
      axesPlugin({ xMajor: biiInXTicks, xMinor: biiInXMinor, yMajor: cumYTicks, yMinor: cumYMinor, majorLen: 5, minorLen: 3 }),
    ],
  };
}

// ----- C panels -----
function pairLines(ctrl: number[], lap: number[], x0: number, x1: number) {
  const out: any[] = [];
  ctrl.forEach((c, i) => {
    out.push({ x: x0, y: c }, { x: x1, y: lap[i] }, { x: x1, y: null });
  });
  return out;
}

function pointsSet(xPos: number, ys: number[], color: string, order: number) {
  return {
    type: 'scatter',
    data: ys.map((y) => ({ x: xPos, y })),
    pointRadius: 5,
    pointBorderWidth: 2,
    pointBorderColor: color,
    borderColor: color,
    pointBackgroundColor: 'rgba(0,0,0,0)',
    backgroundColor: 'rgba(0,0,0,0)',
    clip: false,
    order,
  };
}

function makeC(box: Box, area: Area, xr: [number, number], yr: [number, number], yTop: number, means: number[], c14: number[], l14: number[], c30: number[], l30: number[], yTicks: number[], yMinor: number[], sig: any[], barW: number, xPad: number, yPad: number, withNames: boolean) {
  return () => {
    const f = frame(box, area);
    const datasets: any[] = [
      {
        type: 'bar',
        data: means.map((m, i) => ({ x: i, y: m })),
        backgroundColor: '#ffffff',
        borderColor: '#000000',
        borderWidth: 1.5,
        borderSkipped: false,
        barThickness: barW,
        order: 10,
      },
      pointsSet(0, c14, '#9a1414', 3),
      pointsSet(1, l14, '#ff1a1a', 3),
      pointsSet(2, c30, '#000000', 3),
      pointsSet(3, l30, '#666666', 3),
      {
        type: 'line',
        data: pairLines(c14, l14, 0, 1).concat(pairLines(c30, l30, 2, 3)),
        borderColor: '#000000',
        borderWidth: 2,
        borderDash: [4, 3],
        pointRadius: 0,
        spanGaps: false,
        clip: false,
        order: 0,
      },
    ];
    const plugins: any[] = [
      axesPlugin({ xMajor: [1.5], yMajor: yTicks, yMinor: yMinor, majorLen: 7, minorLen: 4, yTop }),
      sigPlugin(sig),
    ];
    if (withNames) plugins.push(barTextPlugin(barNames, 0));
    return {
      type: 'bar',
      data: { datasets },
      options: {
        ...baseOptions(),
        layout: { padding: f.padding, autoPadding: false },
        scales: {
          x: linAxis(xr[0], xr[1], groupTicks, (v: any, i: number) => groupLabels[i], 22, xPad, f.xH, true),
          y: linAxis(yr[0], yr[1], yTicks, num, 22, yPad, f.yW, false),
        },
      },
      plugins,
    };
  };
}

const CI_BOX = { l: 860, t: 0, w: 273, h: 330 };
const CI_AREA = { l: 937, t: 108, r: 1125, b: 300 };
const CII_BOX = { l: 860, t: 330, w: 273, h: 427 };
const CII_AREA = { l: 943, t: 382, r: 1130, b: 713 };

// ----- boxes for traces -----
const P14_BOX = { l: 43, t: 110, w: 358, h: 120 };
const P30_BOX = { l: 43, t: 265, w: 351, h: 140 };
const LAP_BOX = { l: 428, t: 52, w: 400, h: 95 };
const GRAYT_BOX = { l: 424, t: 225, w: 399, h: 95 };
const REDEV_BOX = { l: 687, t: 90, w: 106, h: 120 };
const GRAYEV_BOX = { l: 683, t: 285, w: 105, h: 125 };

// ================= HTML pieces =================
function Txt({ x, y, size, bold, rot, left, children }: any) {
  const tf = left ? 'translate(0,-50%)' : 'translate(-50%,-50%)' + (rot ? ' rotate(-90deg)' : '');
  return (
    <div
      style={{
        position: 'absolute',
        left: x,
        top: y,
        fontSize: size,
        fontWeight: bold ? 700 : 400,
        lineHeight: 1,
        whiteSpace: 'nowrap',
        transform: tf,
        fontFamily: FONT,
        color: '#000',
      }}
    >
      {children}
    </div>
  );
}

function Rect({ x, y, w, h }: any) {
  return <div style={{ position: 'absolute', left: x, top: y, width: w, height: h, background: '#000' }} />;
}

function Dashed({ x, y, w }: any) {
  return (
    <div
      style={{
        position: 'absolute',
        left: x,
        top: y,
        width: w,
        height: 1.5,
        backgroundImage: 'repeating-linear-gradient(to right, #333 0px, #333 6px, transparent 6px, transparent 11px)',
      }}
    />
  );
}

const sup = { fontSize: '0.62em', verticalAlign: '0.55em' };

export default function App() {
  return (
    <div style={{ position: 'fixed', left: 0, top: 0, width: 1133, height: 757, background: '#fff', overflow: 'hidden' }}>
      {/* traces */}
      <ChartCanvas box={P14_BOX} make={traceMaker(P14_BOX, p14Trace, FINE_STEP, '#800000', 1.2, 130, 3.3)} />
      <ChartCanvas box={P30_BOX} make={traceMaker(P30_BOX, p30Trace, TRACE_STEP, '#000000', 1.3, 288, 3.3)} />
      <ChartCanvas box={LAP_BOX} make={traceMaker(LAP_BOX, lap4Trace, FINE_STEP, '#ff0000', 1.2, 68, 3.3)} />
      <ChartCanvas box={GRAYT_BOX} make={traceMaker(GRAYT_BOX, p30Lap4Trace, TRACE_STEP, '#555555', 1.3, 240, 3.3)} />
      <ChartCanvas box={REDEV_BOX} make={eventsMaker(REDEV_BOX, redEventTime, redEvents, '#ff0000', 100, 5.6)} />
      <ChartCanvas box={GRAYEV_BOX} make={eventsMaker(GRAYEV_BOX, grayEventTime, grayEvents, '#555555', 296, 5)} />

      {/* histograms */}
      <ChartCanvas box={BI_BOX} make={makeBi} />
      <ChartCanvas box={BIIN_BOX} make={makeBiInset} />
      <ChartCanvas box={BII_BOX} make={makeBii} />
      <ChartCanvas box={BIIIN_BOX} make={makeBiiInset} />

      {/* bar + paired plots */}
      <ChartCanvas
        box={CI_BOX}
        make={makeC(CI_BOX, CI_AREA, [-0.65, 3.62], [-1, 35], 35, ampMeans, ampCtrl14, ampLap14, ampCtrl30, ampLap30, ampYTicks, ampYMinor, ampSig, 27, 2, 8, true)}
      />
      <ChartCanvas
        box={CII_BOX}
        make={makeC(CII_BOX, CII_AREA, [-0.67, 3.58], [-5, 130], 125, freqMeans, freqCtrl14, freqLap14, freqCtrl30, freqLap30, freqYTicks, freqYMinor, freqSig, 28, 6, 10, false)}
      />

      {/* dashed baselines */}
      <Dashed x={44} y={67} w={361} />
      <Dashed x={44} y={239} w={361} />

      {/* scale bars */}
      <Rect x={524} y={140} w={2} h={34} />
      <Rect x={524} y={172} w={67} h={2} />
      <Rect x={775} y={154} w={1.5} h={28.5} />
      <Rect x={775} y={181} w={25} h={1.5} />
      <Rect x={525} y={306} w={2} h={32} />
      <Rect x={525} y={336} w={66} h={2} />
      <Rect x={768} y={353} w={1.5} h={25.5} />
      <Rect x={768} y={377} w={24} h={1.5} />

      {/* panel letters */}
      <Txt x={13} y={22} size={21} bold left>Ai</Txt>
      <Txt x={410} y={19} size={21} bold left>Aii</Txt>
      <Txt x={13} y={424} size={21} bold left>Bi</Txt>
      <Txt x={480} y={424} size={21} bold left>Bii</Txt>
      <Txt x={868} y={17} size={21} bold left>Ci</Txt>
      <Txt x={868} y={358} size={21} bold left>Cii</Txt>

      {/* A labels */}
      <Txt x={43} y={100} size={22} left>P14</Txt>
      <Txt x={43} y={263} size={22} left>P30</Txt>
      <Txt x={452} y={35} size={22} left>with L-AP4</Txt>
      <Txt x={508} y={157} size={21} rot>10 pA</Txt>
      <Txt x={558} y={190} size={21}>50 ms</Txt>
      <Txt x={761} y={167} size={15} rot>5 pA</Txt>
      <Txt x={790} y={195} size={15}>1 ms</Txt>
      <Txt x={508} y={321} size={21} rot>10 pA</Txt>
      <Txt x={557} y={354} size={21}>50 ms</Txt>
      <Txt x={755} y={363} size={15} rot>5 pA</Txt>
      <Txt x={782} y={392} size={15}>1 ms</Txt>

      {/* B labels */}
      <Txt x={115} y={489} size={17}>Noise</Txt>
      <Txt x={184} y={481} size={22}>L-AP4</Txt>
      <Txt x={292} y={637} size={22}>Control</Txt>
      <Txt x={235} y={743} size={22}>pA</Txt>
      <Txt x={28} y={589} size={22} rot>
        events (fraction x10<span style={sup}>-2</span>)
      </Txt>
      <Txt x={261} y={513} size={16} rot>Cumulative probability</Txt>
      <Txt x={374} y={608} size={18}>pA</Txt>
      <Txt x={498} y={593} size={22} rot>
        events (fraction x10<span style={sup}>-2</span>)
      </Txt>
      <Txt x={665} y={747} size={22}>ms</Txt>
      <Txt x={650} y={532} size={16} rot>Cumulative probability</Txt>
      <Txt x={745} y={619} size={18}>ms</Txt>

      {/* C labels */}
      <Txt x={887} y={202} size={26} rot>amplitude (pA)</Txt>
      <Txt x={889} y={563} size={22} rot>frequency (Hz)</Txt>
    </div>
  );
}
